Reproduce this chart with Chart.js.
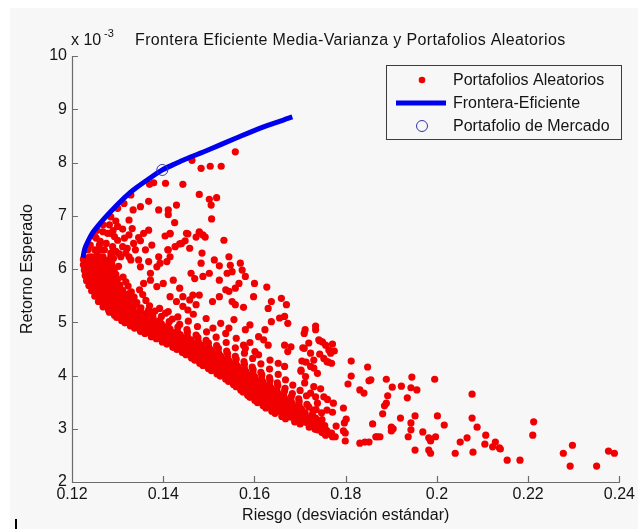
<!DOCTYPE html>
<html><head><meta charset="utf-8">
<script src="https://cdn.jsdelivr.net/npm/chart.js@4.4.1/dist/chart.umd.min.js"></script>
<style>html,body{margin:0;padding:0;background:#fff}canvas{display:block}</style>
</head><body>
<canvas id="c" width="638" height="529"></canvas>
<script>
// Eje X: riesgo (desviación estándar)
const xTicks = [0.12, 0.14, 0.16, 0.18, 0.20, 0.22, 0.24];
const xTickLabels = ['0.12', '0.14', '0.16', '0.18', '0.2', '0.22', '0.24'];
// Eje Y: retorno esperado en unidades de 10^-3
const yTicks = [2, 3, 4, 5, 6, 7, 8, 9, 10];
const yTickLabels = ['2', '3', '4', '5', '6', '7', '8', '9', '10'];

// Frontera eficiente (riesgo, retorno x10^-3)
const fronteraRiesgo  = [0.1224, 0.1228, 0.1235, 0.1245, 0.1256, 0.1270, 0.1285, 0.1303, 0.1320, 0.1340, 0.1368, 0.1398, 0.1425, 0.1448, 0.1497, 0.1560, 0.1620, 0.1683];
const fronteraRetorno = [6.21, 6.38, 6.52, 6.68, 6.80, 6.94, 7.08, 7.24, 7.38, 7.52, 7.69, 7.86, 7.97, 8.06, 8.23, 8.46, 8.67, 8.855];

// Portafolio de mercado
const mercadoRiesgo = [0.1398];
const mercadoRetorno = [7.86];

// Portafolios aleatorios [riesgo, retorno x10^-3] — banda densa
const aleatoriosBanda = [
[0.1225,6.18],[0.1237,6.22],[0.1249,6.17],[0.1262,6.21],[0.1276,6.16],[0.1291,6.20],
[0.1225,6.08],[0.1236,6.11],[0.1248,6.06],[0.1260,6.12],[0.1273,6.07],[0.1287,6.10],[0.1302,6.05],
[0.1227,5.98],[0.1239,6.02],[0.1251,5.97],[0.1264,6.01],[0.1278,5.96],[0.1293,6.00],
[0.1229,5.88],[0.1241,5.91],[0.1253,5.86],[0.1266,5.92],[0.1280,5.87],[0.1296,5.90],[0.1312,5.85],
[0.1232,5.78],[0.1244,5.81],[0.1257,5.76],[0.1270,5.80],[0.1284,5.77],[0.1300,5.81],[0.1318,5.76],
[0.1237,5.69],[0.1249,5.72],[0.1262,5.67],[0.1275,5.71],[0.1289,5.66],[0.1305,5.70],[0.1323,5.68],
[0.1243,5.59],[0.1255,5.62],[0.1268,5.57],[0.1281,5.61],[0.1295,5.56],[0.1311,5.60],[0.1330,5.57],[0.1348,5.61],
[0.1250,5.49],[0.1262,5.52],[0.1275,5.47],[0.1288,5.51],[0.1302,5.46],[0.1318,5.50],[0.1336,5.47],[0.1355,5.52],
[0.1258,5.39],[0.1270,5.42],[0.1283,5.37],[0.1296,5.41],[0.1310,5.36],[0.1325,5.40],[0.1342,5.37],[0.1362,5.41],
[0.1268,5.29],[0.1280,5.32],[0.1293,5.27],[0.1306,5.31],[0.1320,5.26],[0.1335,5.30],[0.1351,5.27],[0.1370,5.31],[0.1392,5.26],
[0.1282,5.19],[0.1294,5.22],[0.1307,5.17],[0.1320,5.21],[0.1334,5.16],[0.1348,5.20],[0.1364,5.17],[0.1382,5.21],[0.1405,5.17],
[0.1298,5.09],[0.1310,5.12],[0.1322,5.07],[0.1335,5.11],[0.1349,5.06],[0.1363,5.10],[0.1378,5.07],[0.1396,5.11],[0.1420,5.06],
[0.1316,4.99],[0.1328,5.02],[0.1341,4.97],[0.1354,5.01],[0.1367,4.96],[0.1381,5.00],[0.1396,4.97],[0.1413,5.01],[0.1436,4.96],[0.1455,5.02],
[0.1337,4.89],[0.1349,4.92],[0.1361,4.87],[0.1374,4.91],[0.1387,4.86],[0.1401,4.90],[0.1415,4.87],[0.1432,4.91],[0.1452,4.86],[0.1475,4.92],
[0.1360,4.79],[0.1372,4.82],[0.1384,4.77],[0.1397,4.81],[0.1410,4.76],[0.1423,4.80],[0.1437,4.77],[0.1453,4.81],[0.1472,4.76],[0.1495,4.82],
[0.1385,4.69],[0.1397,4.72],[0.1409,4.67],[0.1421,4.71],[0.1434,4.66],[0.1447,4.70],[0.1461,4.67],[0.1476,4.71],[0.1494,4.66],[0.1516,4.72],
[0.1408,4.59],[0.1420,4.62],[0.1432,4.57],[0.1444,4.61],[0.1457,4.56],[0.1470,4.60],[0.1484,4.57],[0.1499,4.61],[0.1517,4.56],[0.1538,4.62],
[0.1430,4.49],[0.1442,4.52],[0.1454,4.47],[0.1466,4.51],[0.1479,4.46],[0.1492,4.50],[0.1506,4.47],[0.1521,4.51],[0.1539,4.46],[0.1558,4.52],
[0.1450,4.39],[0.1462,4.42],[0.1474,4.37],[0.1486,4.41],[0.1499,4.36],[0.1512,4.40],[0.1526,4.37],[0.1541,4.41],[0.1558,4.36],[0.1578,4.42],
[0.1469,4.29],[0.1481,4.32],[0.1493,4.27],[0.1505,4.31],[0.1518,4.26],[0.1531,4.30],[0.1545,4.27],[0.1560,4.31],[0.1577,4.26],[0.1596,4.32],
[0.1487,4.19],[0.1499,4.22],[0.1511,4.17],[0.1523,4.21],[0.1536,4.16],[0.1549,4.20],[0.1563,4.17],[0.1578,4.21],[0.1595,4.16],[0.1614,4.22],
[0.1506,4.09],[0.1518,4.12],[0.1530,4.07],[0.1542,4.11],[0.1555,4.06],[0.1568,4.10],[0.1582,4.07],[0.1597,4.11],[0.1614,4.06],[0.1633,4.12],
[0.1525,3.99],[0.1537,4.02],[0.1549,3.97],[0.1561,4.01],[0.1574,3.96],[0.1587,4.00],[0.1601,3.97],[0.1616,4.01],[0.1633,3.96],[0.1652,4.02],
[0.1543,3.89],[0.1555,3.92],[0.1567,3.87],[0.1579,3.91],[0.1592,3.86],[0.1605,3.90],[0.1619,3.87],[0.1634,3.91],[0.1650,3.86],[0.1668,3.92],
[0.1560,3.79],[0.1572,3.82],[0.1584,3.77],[0.1596,3.81],[0.1609,3.76],[0.1622,3.80],[0.1636,3.77],[0.1651,3.81],[0.1667,3.76],[0.1684,3.82],
[0.1575,3.69],[0.1587,3.72],[0.1599,3.67],[0.1611,3.71],[0.1624,3.66],[0.1637,3.70],[0.1651,3.67],[0.1666,3.71],[0.1683,3.66],[0.1700,3.72],
[0.1590,3.59],[0.1602,3.62],[0.1614,3.57],[0.1626,3.61],[0.1639,3.56],[0.1652,3.60],[0.1666,3.57],[0.1681,3.61],[0.1697,3.56],[0.1714,3.62],
[0.1607,3.49],[0.1619,3.52],[0.1631,3.47],[0.1643,3.51],[0.1656,3.46],[0.1669,3.50],[0.1683,3.47],[0.1698,3.51],[0.1715,3.46],
[0.1625,3.39],[0.1637,3.42],[0.1649,3.37],[0.1661,3.41],[0.1674,3.36],[0.1688,3.40],[0.1703,3.37],[0.1719,3.41],[0.1735,3.36],
[0.1645,3.29],[0.1657,3.32],[0.1669,3.27],[0.1682,3.31],[0.1696,3.26],[0.1711,3.30],[0.1727,3.27],
[0.1668,3.19],[0.1680,3.22],[0.1692,3.17],[0.1705,3.21],[0.1719,3.16],[0.1734,3.20],[0.1748,3.17],
[0.1700,3.09],[0.1712,3.12],[0.1725,3.07],[0.1739,3.11],[0.1754,3.06],
[0.1733,2.99],[0.1745,3.02],[0.1758,2.97],
[0.1757,2.89],[0.1769,2.92]
];

// Portafolios aleatorios — núcleo (relleno entre filas de la banda)
const aleatoriosNucleo = [
[0.1231,6.13],[0.1243,6.13],[0.1255,6.14],[0.1268,6.13],[0.1282,6.13],
[0.1232,6.03],[0.1244,6.04],[0.1257,6.03],[0.1270,6.03],[0.1285,6.04],
[0.1234,5.93],[0.1246,5.93],[0.1259,5.94],[0.1272,5.93],[0.1287,5.93],
[0.1237,5.83],[0.1250,5.84],[0.1263,5.83],[0.1276,5.83],[0.1291,5.84],
[0.1240,5.73],[0.1253,5.73],[0.1266,5.74],[0.1280,5.73],[0.1296,5.73],
[0.1246,5.63],[0.1259,5.64],[0.1272,5.63],[0.1286,5.63],[0.1302,5.64],
[0.1252,5.53],[0.1265,5.53],[0.1278,5.54],[0.1292,5.53],[0.1308,5.53],[0.1325,5.54],
[0.1260,5.43],[0.1272,5.44],[0.1285,5.43],[0.1299,5.43],[0.1314,5.44],[0.1331,5.43],
[0.1269,5.33],[0.1281,5.33],[0.1294,5.34],[0.1308,5.33],[0.1323,5.33],[0.1340,5.34],
[0.1280,5.23],[0.1292,5.24],[0.1305,5.23],[0.1319,5.23],[0.1334,5.24],[0.1350,5.23],[0.1368,5.23],
[0.1293,5.13],[0.1305,5.13],[0.1318,5.14],[0.1331,5.13],[0.1345,5.13],[0.1360,5.14],[0.1377,5.13],
[0.1309,5.03],[0.1321,5.04],[0.1334,5.03],[0.1347,5.03],[0.1361,5.04],[0.1376,5.03],[0.1392,5.03],
[0.1328,4.93],[0.1340,4.93],[0.1352,4.94],[0.1365,4.93],[0.1379,4.93],[0.1394,4.94],[0.1410,4.93],
[0.1350,4.83],[0.1362,4.84],[0.1374,4.83],[0.1387,4.83],[0.1401,4.84],[0.1415,4.83],[0.1431,4.83],
[0.1374,4.73],[0.1386,4.73],[0.1398,4.74],[0.1411,4.73],[0.1424,4.73],[0.1438,4.74],[0.1453,4.73],
[0.1398,4.63],[0.1410,4.64],[0.1422,4.63],[0.1435,4.63],[0.1448,4.64],[0.1462,4.63],[0.1477,4.63],
[0.1421,4.53],[0.1433,4.53],[0.1445,4.54],[0.1458,4.53],[0.1471,4.53],[0.1485,4.54],[0.1500,4.53],
[0.1442,4.43],[0.1454,4.44],[0.1466,4.43],[0.1479,4.43],[0.1492,4.44],[0.1506,4.43],[0.1521,4.43],
[0.1462,4.33],[0.1474,4.33],[0.1486,4.34],[0.1499,4.33],[0.1512,4.33],[0.1526,4.34],[0.1541,4.33],
[0.1480,4.23],[0.1492,4.24],[0.1504,4.23],[0.1517,4.23],[0.1530,4.24],[0.1544,4.23],[0.1559,4.23],
[0.1499,4.13],[0.1511,4.13],[0.1523,4.14],[0.1536,4.13],[0.1549,4.13],[0.1563,4.14],[0.1578,4.13],
[0.1518,4.03],[0.1530,4.04],[0.1542,4.03],[0.1555,4.03],[0.1568,4.04],[0.1582,4.03],[0.1597,4.03],
[0.1537,3.93],[0.1549,3.93],[0.1561,3.94],[0.1574,3.93],[0.1587,3.93],[0.1601,3.94],[0.1616,3.93],
[0.1554,3.83],[0.1566,3.84],[0.1578,3.83],[0.1591,3.83],[0.1604,3.84],[0.1618,3.83],[0.1633,3.83],
[0.1570,3.73],[0.1582,3.73],[0.1594,3.74],[0.1607,3.73],[0.1620,3.73],[0.1634,3.74],[0.1649,3.73],
[0.1585,3.63],[0.1597,3.64],[0.1609,3.63],[0.1622,3.63],[0.1635,3.64],[0.1649,3.63],[0.1664,3.63],
[0.1601,3.53],[0.1613,3.53],[0.1625,3.54],[0.1638,3.53],[0.1651,3.53],[0.1665,3.54],[0.1680,3.53],
[0.1619,3.43],[0.1631,3.44],[0.1643,3.43],[0.1656,3.43],[0.1669,3.44],[0.1683,3.43],[0.1698,3.43],
[0.1638,3.33],[0.1650,3.33],[0.1662,3.34],[0.1675,3.33],[0.1689,3.33],[0.1704,3.34],
[0.1660,3.23],[0.1672,3.24],[0.1685,3.23],[0.1698,3.23],[0.1712,3.24],[0.1727,3.23],
[0.1688,3.13],[0.1700,3.13],[0.1713,3.14],[0.1727,3.13],[0.1741,3.13],
[0.1720,3.03],[0.1732,3.04],[0.1745,3.03],
[0.1748,2.93],[0.1760,2.94]
];

// Portafolios aleatorios — zona superior (cerca de la frontera)
const aleatoriosSuperior = [
[0.1558,8.20],[0.1463,8.04],[0.1503,7.93],[0.1527,7.93],[0.1483,7.89],
[0.1370,7.59],[0.1379,7.62],[0.1405,7.61],[0.1443,7.59],
[0.1329,7.39],[0.1479,7.40],[0.1501,7.31],[0.1517,7.34],
[0.1314,7.23],[0.1300,7.14],[0.1334,7.11],[0.1350,7.17],[0.1368,7.27],[0.1390,7.11],[0.1411,7.11],[0.1429,7.20],[0.1505,7.20],
[0.1411,7.02],[0.1425,6.87],[0.1325,6.92],[0.1296,6.90],[0.1506,6.94],
[0.1268,6.70],[0.1285,6.67],[0.1311,6.75],[0.1325,6.64],[0.1346,6.59],[0.1350,6.53],[0.1368,6.73],[0.1404,6.62],[0.1415,6.67],
[0.1451,6.67],[0.1479,6.70],[0.1487,6.64],[0.1472,6.60],[0.1448,6.53],[0.1436,6.47],[0.1533,6.54],
[0.1253,6.58],[0.1260,6.45],[0.1275,6.48],[0.1264,6.36],[0.1289,6.42],[0.1250,6.36],[0.1303,6.29],[0.1285,6.23],[0.1268,6.23],
[0.1311,6.42],[0.1339,6.36],[0.1390,6.23],[0.1411,6.36],[0.1368,6.14],[0.1346,6.17],
[0.1250,6.61],[0.1255,6.73],[0.1268,6.83],[0.1282,6.83],[0.1235,6.36],[0.1242,6.23],[0.1325,6.23],[0.1321,6.39],[0.1361,6.36],
[0.1375,6.45],[0.1357,6.67],[0.1332,6.76],[0.1300,6.54],
[0.1278,6.67],[0.1293,6.61],[0.1271,6.36],[0.1285,6.30],[0.1307,6.23],[0.1329,6.17],[0.1350,6.04],[0.1372,5.92],[0.1386,6.04],
[0.1393,6.11],[0.1408,6.14],[0.1415,6.23],[0.1410,6.36],[0.1372,5.79],[0.1357,5.73],[0.1386,5.67],[0.1400,5.73],[0.1422,5.79],
[0.1436,5.64],[0.1415,5.48],[0.1429,5.39],[0.1443,5.48],[0.1454,5.23],[0.1465,5.51],[0.1479,5.51],[0.1458,5.42],[0.1472,5.33],
[0.1411,5.20],[0.1432,5.10],[0.1443,5.30],[0.1466,5.15],
[0.1285,6.98],[0.1300,6.80],[0.1315,6.58],[0.1262,6.52],[0.1240,6.45],[0.1296,6.33],[0.1318,6.30],[0.1255,6.28],[0.1335,6.48],[0.1290,6.72]
];

// Portafolios aleatorios — zona media
const aleatoriosMedio = [
[0.1415,6.66],[0.1454,6.66],[0.1479,6.68],[0.1492,6.60],[0.1426,6.42],[0.1440,6.48],[0.1458,6.39],[0.1485,6.30],[0.1483,6.11],
[0.1512,6.17],[0.1523,6.06],[0.1544,6.23],[0.1547,6.07],[0.1569,6.11],[0.1573,5.98],[0.1580,5.86],[0.1540,5.92],[0.1551,5.95],
[0.1501,5.92],[0.1523,5.79],[0.1487,5.86],[0.1461,5.92],[0.1469,5.82],[0.1600,5.73],[0.1627,5.66],[0.1566,5.73],[0.1558,5.64],
[0.1544,5.58],[0.1537,5.61],[0.1598,5.48],[0.1551,5.39],[0.1558,5.33],[0.1576,5.28],[0.1523,5.48],[0.1508,5.39],[0.1637,5.39],
[0.1659,5.45],[0.1670,5.33],[0.1630,5.26],[0.1655,5.08],[0.1666,5.11],[0.1673,4.98],[0.1637,5.01],[0.1623,4.86],[0.1709,4.79],
[0.1734,4.86],[0.1580,4.86],[0.1609,4.73],[0.1620,4.67],[0.1630,4.57],[0.1601,4.45],[0.1609,4.39],[0.1634,4.29],[0.1741,4.67],
[0.1756,4.57],[0.1763,4.48],[0.1666,4.57],[0.1680,4.54],[0.1673,4.45],[0.1709,4.51],[0.1723,4.42],[0.1752,4.32],[0.1759,4.26],
[0.1509,4.89],[0.1526,4.98],[0.1537,4.79],[0.1544,4.89],[0.1576,4.57],[0.1580,4.51],[0.1652,4.23],[0.1666,4.17],[0.1702,4.10],
[0.1712,3.98],[0.1723,4.17],[0.1738,4.04],[0.1710,3.86],[0.1730,3.79],[0.1723,3.67],[0.1752,3.60],[0.1738,3.48],[0.1759,3.35],
[0.1494,5.07],[0.1560,4.70],[0.1590,4.62],[0.1555,5.05],[0.1590,4.95],
[0.1734,3.60],[0.1771,3.31],[0.1747,3.30],[0.1728,3.35],[0.1713,3.22],[0.1760,3.55],[0.1745,3.75]
];

// Portafolios aleatorios — cola derecha (alto riesgo)
const aleatoriosDerecha = [
[0.1711,4.86],[0.1734,4.93],[0.1743,4.65],[0.1749,4.63],[0.1719,4.61],[0.1771,4.59],[0.1706,4.52],[0.1775,4.46],[0.1743,4.40],
[0.1767,4.42],[0.1704,4.27],[0.1713,4.25],[0.1730,4.29],[0.1762,4.25],[0.1769,4.23],[0.1812,4.27],[0.1848,4.16],[0.1702,4.08],
[0.1730,4.14],[0.1812,3.99],[0.1851,3.90],[0.1855,3.92],[0.1889,3.93],[0.1945,3.97],[0.1995,3.93],[0.1805,3.84],[0.1902,3.78],
[0.1922,3.80],[0.1943,3.77],[0.1956,3.73],[0.1831,3.73],[0.1840,3.67],[0.2077,3.65],[0.1892,3.62],[0.1935,3.58],[0.1889,3.48],
[0.1885,3.43],[0.1773,3.48],[0.1795,3.39],[0.1881,3.28],[0.1952,3.24],[0.2001,3.24],[0.2077,3.20],[0.1920,3.20],[0.1801,3.18],
[0.1797,3.11],[0.2212,3.13],[0.1943,3.11],[0.2016,3.07],[0.2088,3.03],[0.1859,3.09],[0.1779,3.05],[0.1900,3.03],[0.1904,3.00],
[0.1900,2.96],[0.1943,2.98],[0.1734,3.01],[0.1739,2.98],[0.1795,2.96],[0.1799,2.92],[0.1752,2.92],[0.1756,2.88],[0.1771,2.85],
[0.1777,2.85],[0.1969,2.94],[0.2107,2.88],[0.2210,2.88],[0.1866,2.85],[0.1869,2.85],[0.1875,2.85],[0.1937,2.85],[0.1982,2.83],
[0.1986,2.77],[0.1997,2.85],[0.2066,2.83],[0.1799,2.77],[0.1831,2.73],[0.1842,2.75],[0.1851,2.75],[0.2051,2.75],[0.2105,2.71],
[0.2122,2.66],[0.2128,2.75],[0.2139,2.62],[0.2137,2.64],[0.2297,2.69],[0.2277,2.54],[0.1952,2.60],[0.1982,2.60],[0.1986,2.54],
[0.2040,2.54],[0.2079,2.56],[0.2376,2.58],[0.2389,2.54],[0.2154,2.41],[0.2182,2.41],[0.2292,2.30],[0.2350,2.30]
];

const aleatorios = [].concat(aleatoriosBanda, aleatoriosNucleo, aleatoriosSuperior, aleatoriosMedio, aleatoriosDerecha);

const BG = '#f7f7f7';
const FONT = '"Liberation Sans", Arial, sans-serif';
const TXT = '#141414';
const RED = 'rgb(240,0,0)';

const matlabPlugin = {
  id: 'matlabLook',
  beforeDraw(chart) {
    const c = chart.ctx;
    c.save();
    c.fillStyle = '#ffffff';
    c.fillRect(0, 0, chart.width, chart.height);
    c.fillStyle = BG;
    c.fillRect(10, 8, chart.width - 10, chart.height - 8);
    c.fillStyle = '#000';
    c.fillRect(15, 519, 2, 10);
    c.restore();
  },
  afterDraw(chart) {
    const c = chart.ctx;
    const a = chart.chartArea;
    const xs = chart.scales.x, ys = chart.scales.y;
    c.save();
    c.strokeStyle = '#6c6c6c';
    c.lineWidth = 1.2;
    c.beginPath();
    c.moveTo(a.left + 0.5, a.top);
    c.lineTo(a.left + 0.5, a.bottom + 0.5);
    c.lineTo(a.right + 0.5, a.bottom + 0.5);
    xTicks.forEach(v => {
      const p = Math.round(xs.getPixelForValue(v)) + 0.5;
      c.moveTo(p, a.bottom); c.lineTo(p, a.bottom - 6);
    });
    yTicks.forEach(v => {
      const p = Math.round(ys.getPixelForValue(v)) + 0.5;
      c.moveTo(a.left, p); c.lineTo(a.left + 6, p);
    });
    c.stroke();

    const title = 'Frontera Eficiente Media-Varianza y Portafolios Aleatorios';
    c.fillStyle = TXT;
    c.font = '16px ' + FONT;
    c.textBaseline = 'alphabetic';
    c.textAlign = 'left';
    const w = c.measureText(title).width;
    const sp = Math.max(0, (430 - w) / (title.length - 1));
    try { c.letterSpacing = sp.toFixed(2) + 'px'; } catch (e) {}
    c.fillText(title, 135, 45);
    try { c.letterSpacing = '0px'; } catch (e) {}

    c.font = '16px ' + FONT;
    c.fillText('x 10', 71, 45);
    c.font = '11px ' + FONT;
    c.fillText('-3', 104, 37);

    const lx = 386.5, ly = 65.5, lw = 235, lh = 74;
    c.fillStyle = BG;
    c.fillRect(lx, ly, lw, lh);
    c.strokeStyle = '#3c3c3c';
    c.lineWidth = 1;
    c.strokeRect(lx, ly, lw, lh);
    c.fillStyle = RED;
    c.beginPath(); c.arc(422, 80, 3.3, 0, Math.PI * 2); c.fill();
    c.strokeStyle = '#0000f0';
    c.lineWidth = 5;
    c.beginPath(); c.moveTo(396, 103); c.lineTo(446, 103); c.stroke();
    c.strokeStyle = '#3434b4';
    c.lineWidth = 1;
    c.beginPath(); c.arc(422, 126, 5.5, 0, Math.PI * 2); c.stroke();
    c.fillStyle = TXT;
    c.font = '16px ' + FONT;
    c.fillText('Portafolios Aleatorios', 453, 85);
    c.fillText('Frontera-Eficiente', 453, 108);
    c.fillText('Portafolio de Mercado', 453, 131);
    c.restore();
  }
};

new Chart(document.getElementById('c'), {
  type: 'scatter',
  data: {
    datasets: [
      {
        label: 'Portafolio de Mercado',
        order: 0,
        data: mercadoRiesgo.map((r, i) => ({ x: r, y: mercadoRetorno[i] })),
        pointRadius: 5.5,
        pointBorderWidth: 1,
        pointBorderColor: '#3434b4',
        pointBackgroundColor: 'rgba(0,0,0,0)',
        showLine: false
      },
      {
        label: 'Frontera-Eficiente',
        type: 'line',
        order: 1,
        data: fronteraRiesgo.map((r, i) => ({ x: r, y: fronteraRetorno[i] })),
        borderColor: '#0000f0',
        borderWidth: 5,
        pointRadius: 0,
        fill: false,
        tension: 0.3,
        borderCapStyle: 'butt'
      },
      {
        label: 'Portafolios Aleatorios',
        order: 2,
        data: aleatorios.map(p => ({ x: p[0], y: p[1] })),
        pointRadius: 3.6,
        pointBorderWidth: 0,
        pointBackgroundColor: RED
      }
    ]
  },
  options: {
    responsive: false,
    animation: false,
    events: [],
    layout: { autoPadding: false, padding: { top: 56, right: 9, bottom: 0, left: 0 } },
    plugins: { legend: { display: false }, tooltip: { enabled: false }, title: { display: false } },
    scales: {
      x: {
        type: 'linear', min: 0.12, max: 0.24,
        afterFit: s => { s.height = 47; },
        afterBuildTicks: s => { s.ticks = xTicks.map(v => ({ value: v })); },
        grid: { display: false, drawTicks: false },
        border: { display: false },
        ticks: { autoSkip: false, maxRotation: 0, minRotation: 0, padding: 3, color: TXT,
                 font: { family: FONT, size: 16 }, callback: (v, i) => xTickLabels[i] },
        title: { display: true, text: 'Riesgo (desviación estándar)', color: TXT,
                 font: { family: FONT, size: 16 }, padding: { top: 0, bottom: 3.4 } }
      },
      y: {
        type: 'linear', min: 2, max: 10,
        afterFit: s => { s.width = 72; },
        afterBuildTicks: s => { s.ticks = yTicks.map(v => ({ value: v })); },
        grid: { display: false, drawTicks: false },
        border: { display: false },
        ticks: { autoSkip: false, padding: 5, color: TXT,
                 font: { family: FONT, size: 16 }, callback: (v, i) => yTickLabels[i] },
        title: { display: true, text: 'Retorno Esperado', color: TXT,
                 font: { family: FONT, size: 16 }, padding: { top: 18.4, bottom: 0 } }
      }
    }
  },
  plugins: [matlabPlugin]
});
</script>
</body></html>
